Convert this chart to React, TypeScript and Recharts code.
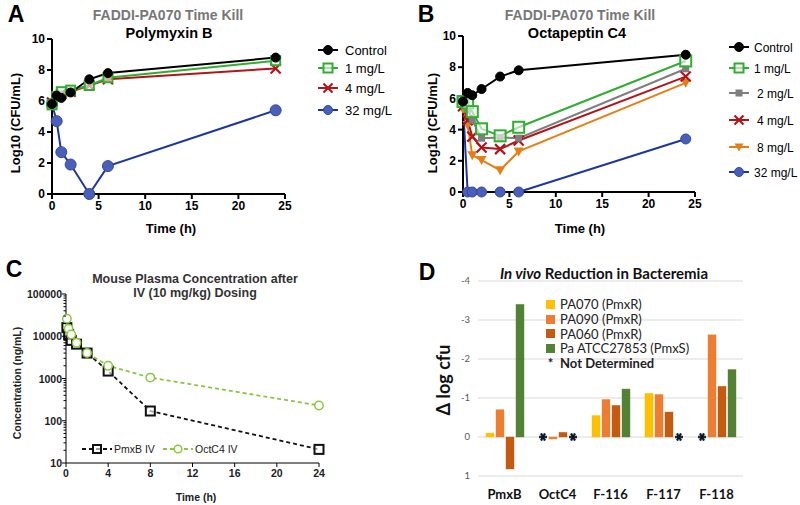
import React from 'react';
import { LineChart, Line, XAxis, YAxis, BarChart, Bar, CartesianGrid } from 'recharts';

// ---- A / B: FADDI-PA070 time kill (log10 CFU/mL) ----
const killTimes = [0, 0.5, 1, 2, 4, 6, 24];

const pmxControl = [5.8, 6.35, 6.2, 6.55, 7.4, 7.8, 8.8];
const pmx1 = [5.75, 6.3, 6.6, 6.7, 7.0, 7.5, 8.6];
const pmx4 = [5.9, 6.3, 6.45, 6.6, 7.0, 7.4, 8.1];
const pmx32 = [5.8, 4.7, 2.7, 1.9, 0, 1.8, 5.4];

const octControl = [5.8, 6.35, 6.2, 6.6, 7.4, 7.8, 8.8];
const oct1 = [5.8, 5.7, 5.15, 4.05, 3.6, 4.15, 8.4];
const oct2 = [5.8, 5.3, 4.6, 3.45, 3.5, 3.45, 7.9];
const oct4 = [5.5, 4.6, 3.55, 2.85, 2.75, 3.3, 7.4];
const oct8 = [5.3, 4.3, 2.35, 2.05, 1.4, 2.6, 7.0];
const oct32 = [5.6, 0, 0, 0, 0, 0, 3.4];

const killTicksX = [0, 5, 10, 15, 20, 25];
const killTicksY = [0, 2, 4, 6, 8, 10];

// ---- C: mouse plasma concentration (ng/mL) ----
const pkTimes = [0.083, 0.25, 0.5, 1, 2, 4, 8, 24];
const pmxbIV = [16000, 11000, 8000, 6500, 4000, 1500, 170, 21];
const octc4IV = [26000, 15000, 11000, 7000, 4000, 2000, 1050, 230];
const pkTicksX = [0, 4, 8, 12, 16, 20, 24];
const pkMajorY = [10, 100, 1000, 10000, 100000];

// ---- D: in vivo reduction (delta log cfu), null = not determined ----
const compounds = ['PmxB', 'OctC4', 'F-116', 'F-117', 'F-118'];
const pa070 = [-0.1, null, -0.55, -1.12, null];
const pa090 = [-0.7, 0.05, -0.96, -1.09, -2.62];
const pa060 = [0.82, -0.12, -0.81, -0.64, -1.3];
const atcc = [-3.4, null, -1.23, null, -1.73];
const deltaTicks = [-4, -3, -2, -1, 0, 1];

const ARIAL = '"Liberation Sans", Arial, sans-serif';
const CALIBRI = 'Lato, "Open Sans", sans-serif';

const pmxData = killTimes.map((t, i) => ({
  t,
  control: pmxControl[i],
  k1: pmx1[i],
  k4: pmx4[i],
  k32: pmx32[i],
}));

const octData = killTimes.map((t, i) => ({
  t,
  control: octControl[i],
  k1: oct1[i],
  k2: oct2[i],
  k4: oct4[i],
  k8: oct8[i],
  k32: oct32[i],
}));

const pkData = pkTimes.map((t, i) => ({ t, pmxb: pmxbIV[i], octc4: octc4IV[i] }));

// major decades plus the 2..9 minor marks for the log axis
const pkTicksY = pkMajorY
  .slice(0, -1)
  .flatMap((d) => [1, 2, 3, 4, 5, 6, 7, 8, 9].map((m) => m * d))
  .concat([100000]);

const bactData = compounds.map((name, i) => ({
  name,
  pa070: pa070[i] ?? 0,
  pa070ND: pa070[i] == null,
  pa090: pa090[i] ?? 0,
  pa090ND: pa090[i] == null,
  pa060: pa060[i] ?? 0,
  pa060ND: pa060[i] == null,
  atcc: atcc[i] ?? 0,
  atccND: atcc[i] == null,
}));

type Shape = 'circle' | 'openSquare' | 'square' | 'cross' | 'triDown' | 'openCircle';

function Marker({ shape, cx, cy, color, size, fill }: any) {
  if (cx == null || cy == null) return null;
  const s = size;
  if (shape === 'circle') return <circle cx={cx} cy={cy} r={s} fill={fill || color} stroke={color} strokeWidth={1} />;
  if (shape === 'openCircle') return <circle cx={cx} cy={cy} r={s} fill="#fff" stroke={color} strokeWidth={1.5} />;
  if (shape === 'openSquare')
    return <rect x={cx - s} y={cy - s} width={s * 2} height={s * 2} fill="#fff" fillOpacity={0.6} stroke={color} strokeWidth={2} />;
  if (shape === 'square') return <rect x={cx - s} y={cy - s} width={s * 2} height={s * 2} fill={color} />;
  if (shape === 'triDown')
    return <path d={`M${cx - s},${cy - s * 0.8} L${cx + s},${cy - s * 0.8} L${cx},${cy + s} Z`} fill={color} />;
  return (
    <g stroke={color} strokeWidth={2.2}>
      <line x1={cx - s} y1={cy - s} x2={cx + s} y2={cy + s} />
      <line x1={cx - s} y1={cy + s} x2={cx + s} y2={cy - s} />
    </g>
  );
}

interface KillSeries {
  key: string;
  name: string;
  line: string;
  color: string;
  fill?: string;
  shape: Shape;
  size: number;
  indent?: number;
}

const blue = { line: '#1d35a3', color: '#2f47a8', fill: '#4a60b8' };

const pmxSeries: KillSeries[] = [
  { key: 'k32', name: '32 mg/L', ...blue, shape: 'circle', size: 5.5 },
  { key: 'k4', name: '4 mg/L', line: '#b3141c', color: '#b3141c', shape: 'cross', size: 5 },
  { key: 'k1', name: '1 mg/L', line: '#2fae2f', color: '#2fae2f', shape: 'openSquare', size: 4.5 },
  { key: 'control', name: 'Control', line: '#000', color: '#000', shape: 'circle', size: 4.5 },
];

const octSeries: KillSeries[] = [
  { key: 'k32', name: '32 mg/L', ...blue, shape: 'circle', size: 5 },
  { key: 'k8', name: '8 mg/L', line: '#e67e16', color: '#e67e16', shape: 'triDown', size: 5, indent: 3 },
  { key: 'k4', name: '4 mg/L', line: '#b3141c', color: '#b3141c', shape: 'cross', size: 5, indent: 3 },
  { key: 'k2', name: '2 mg/L', line: '#7f7f7f', color: '#7f7f7f', shape: 'square', size: 3.5, indent: 3 },
  { key: 'k1', name: '1 mg/L', line: '#2fae2f', color: '#2fae2f', shape: 'openSquare', size: 5.5 },
  { key: 'control', name: 'Control', line: '#000', color: '#000', shape: 'circle', size: 4.5 },
];

function Txt({ x, y, children, style, rotate }: any) {
  return (
    <div
      style={{
        position: 'absolute',
        left: x,
        top: y,
        transform: `translate(-50%, -50%)${rotate ? ' rotate(-90deg)' : ''}`,
        whiteSpace: 'nowrap',
        lineHeight: 1,
        ...style,
      }}
    >
      {children}
    </div>
  );
}

const prismAxis = { stroke: '#000', strokeWidth: 2 };
const prismTick = { fill: '#000', fontSize: 12, fontWeight: 700, fontFamily: ARIAL };

function KillChart({ data, series, margin, legendYs, legendX, textX, legendFont }: any) {
  const order = [...series].reverse();
  return (
    <>
      <LineChart width={400} height={250} data={data} margin={margin} style={{ position: 'absolute', left: 0, top: 0 }}>
        <XAxis
          type="number"
          dataKey="t"
          domain={[0, 25]}
          ticks={killTicksX}
          axisLine={prismAxis}
          tickLine={prismAxis}
          tick={prismTick}
          tickSize={5}
          tickMargin={2}
          height={30}
        />
        <YAxis
          type="number"
          domain={[0, 10]}
          ticks={killTicksY}
          axisLine={prismAxis}
          tickLine={prismAxis}
          tick={prismTick}
          tickSize={5}
          tickMargin={2}
          width={30}
        />
        {series.map((s: KillSeries) => (
          <Line
            key={s.key}
            dataKey={s.key}
            stroke={s.line}
            strokeWidth={2}
            isAnimationActive={false}
            activeDot={false}
            dot={(p: any) => (
              <Marker key={`${s.key}-${p.index}`} shape={s.shape} cx={p.cx} cy={p.cy} color={s.color} fill={s.fill} size={s.size} />
            )}
          />
        ))}
      </LineChart>
      {/* legend */}
      <svg width={400} height={250} style={{ position: 'absolute', left: 0, top: 0, pointerEvents: 'none' }}>
        {order.map((s: KillSeries, i: number) => (
          <g key={s.key}>
            <line x1={legendX} x2={legendX + 20} y1={legendYs[i]} y2={legendYs[i]} stroke={s.line} strokeWidth={2} />
            <Marker shape={s.shape} cx={legendX + 10} cy={legendYs[i]} color={s.color} fill={s.fill} size={Math.min(s.size, 4.5)} />
            <text x={textX + (s.indent || 0)} y={legendYs[i]} dy={4.5} fontSize={legendFont} fontFamily={ARIAL} fill="#000">
              {s.name}
            </text>
          </g>
        ))}
      </svg>
    </>
  );
}

function LogTick({ x, y, payload }: any) {
  const v = payload.value;
  const major = pkMajorY.includes(v);
  return (
    <g>
      <line x1={x - (major ? 4 : 2.5)} x2={x} y1={y} y2={y} stroke="#000" strokeWidth={1} />
      {major && (
        <text x={x - 4} y={y} dy={4} textAnchor="end" fontSize={10.5} fontWeight={700} fontFamily={ARIAL} fill="#222">
          {v}
        </text>
      )}
    </g>
  );
}

function NDStar({ cx, cy }: any) {
  const r = 4;
  const arms = [0, 60, 120].map((a) => {
    const rad = (a * Math.PI) / 180;
    return [Math.cos(rad) * r, Math.sin(rad) * r];
  });
  return (
    <g>
      {arms.map(([dx, dy], i) => (
        <line key={`h${i}`} x1={cx - dx} y1={cy - dy} x2={cx + dx} y2={cy + dy} stroke="#8fb0d8" strokeWidth={3.2} />
      ))}
      {arms.map(([dx, dy], i) => (
        <line key={`c${i}`} x1={cx - dx} y1={cy - dy} x2={cx + dx} y2={cy + dy} stroke="#111" strokeWidth={1.7} />
      ))}
    </g>
  );
}

const barShape = (ndKey: string) => (props: any) => {
  const { x, y, width, height, fill, payload } = props;
  if (payload && payload[ndKey]) return <NDStar cx={x + width / 2} cy={y + (height || 0)} />;
  let top = y;
  let h = height;
  if (h < 0) {
    top = y + h;
    h = -h;
  }
  return <rect x={x} y={top} width={width} height={h} fill={fill} stroke={fill} strokeOpacity={0.5} strokeWidth={0.8} />;
};

const bactSeries = [
  { key: 'pa070', name: 'PA070 (PmxR)', color: '#ffc000' },
  { key: 'pa090', name: 'PA090 (PmxR)', color: '#ed7d31' },
  { key: 'pa060', name: 'PA060 (PmxR)', color: '#c55a11' },
  { key: 'atcc', name: 'Pa ATCC27853 (PmxS)', color: '#548235' },
];

export default function App() {
  return (
    <div style={{ position: 'absolute', left: 0, top: 0, width: 800, height: 505, background: '#fff', overflow: 'hidden', fontFamily: ARIAL }}>
      {/* A */}
      <div style={{ position: 'absolute', left: 0, top: 0, width: 400, height: 250 }}>
        <Txt x={16} y={14} style={{ fontSize: 23, fontWeight: 700 }}>A</Txt>
        <Txt x={168} y={15} style={{ fontSize: 14, fontWeight: 700, color: '#777' }}>FADDI-PA070 Time Kill</Txt>
        <Txt x={169} y={33} style={{ fontSize: 14.5, fontWeight: 700 }}>Polymyxin B</Txt>
        <Txt x={15} y={123} rotate style={{ fontSize: 13, fontWeight: 700 }}>Log10 (CFU/mL)</Txt>
        <Txt x={171} y={228} style={{ fontSize: 13, fontWeight: 700 }}>Time (h)</Txt>
        <KillChart
          data={pmxData}
          series={pmxSeries}
          margin={{ top: 39, right: 115, bottom: 26, left: 22 }}
          legendYs={[50, 68, 88, 110]}
          legendX={318}
          textX={345}
          legendFont={13}
        />
      </div>
      {/* B */}
      <div style={{ position: 'absolute', left: 400, top: 0, width: 400, height: 250 }}>
        <Txt x={26} y={14} style={{ fontSize: 23, fontWeight: 700 }}>B</Txt>
        <Txt x={180} y={15} style={{ fontSize: 14, fontWeight: 700, color: '#777' }}>FADDI-PA070 Time Kill</Txt>
        <Txt x={177} y={33} style={{ fontSize: 14.5, fontWeight: 700 }}>Octapeptin C4</Txt>
        <Txt x={32} y={123} rotate style={{ fontSize: 13, fontWeight: 700 }}>Log10 (CFU/mL)</Txt>
        <Txt x={180} y={228} style={{ fontSize: 13, fontWeight: 700 }}>Time (h)</Txt>
        <KillChart
          data={octData}
          series={octSeries}
          margin={{ top: 36, right: 105, bottom: 28, left: 33 }}
          legendYs={[47, 68, 93, 120, 147, 172]}
          legendX={329}
          textX={354}
          legendFont={12}
        />
      </div>
      {/* C */}
      <div style={{ position: 'absolute', left: 0, top: 250, width: 400, height: 255 }}>
        <Txt x={14} y={19} style={{ fontSize: 23, fontWeight: 700 }}>C</Txt>
        <Txt x={195} y={29} style={{ fontSize: 12.5, fontWeight: 700, color: '#333' }}>Mouse Plasma Concentration after</Txt>
        <Txt x={195} y={43} style={{ fontSize: 12.5, fontWeight: 700, color: '#333' }}>IV (10 mg/kg) Dosing</Txt>
        <Txt x={17} y={133} rotate style={{ fontSize: 10.5, fontWeight: 700, color: '#222' }}>Concentration (ng/mL)</Txt>
        <Txt x={196} y={247} style={{ fontSize: 10.5, fontWeight: 700, color: '#222' }}>Time (h)</Txt>
        <LineChart width={400} height={255} data={pkData} margin={{ top: 44, right: 81, bottom: 20, left: 26 }} style={{ position: 'absolute', left: 0, top: 0 }}>
          <XAxis
            type="number"
            dataKey="t"
            domain={[0, 24]}
            ticks={pkTicksX}
            axisLine={{ stroke: '#000' }}
            tickLine={{ stroke: '#000' }}
            tickSize={4}
            tickMargin={3}
            tick={{ fill: '#222', fontSize: 10.5, fontWeight: 700, fontFamily: ARIAL }}
            height={22}
          />
          <YAxis
            type="number"
            scale="log"
            domain={[10, 100000]}
            ticks={pkTicksY}
            interval={0}
            allowDataOverflow
            axisLine={{ stroke: '#000' }}
            tickLine={false}
            tickSize={0}
            tickMargin={0}
            tick={<LogTick />}
            width={40}
          />
          <Line
            dataKey="pmxb"
            stroke="#111"
            strokeWidth={1.8}
            strokeDasharray="4 3"
            isAnimationActive={false}
            activeDot={false}
            dot={(p: any) => <Marker key={`p-${p.index}`} shape="openSquare" cx={p.cx} cy={p.cy} color="#111" size={4.5} />}
          />
          <Line
            dataKey="octc4"
            stroke="#8cc63f"
            strokeWidth={1.8}
            strokeDasharray="4 3"
            isAnimationActive={false}
            activeDot={false}
            dot={(p: any) => <Marker key={`o-${p.index}`} shape="openCircle" cx={p.cx} cy={p.cy} color="#8cc63f" size={4.2} />}
          />
        </LineChart>
        <svg width={400} height={255} style={{ position: 'absolute', left: 0, top: 0, pointerEvents: 'none' }}>
          <line x1={82} x2={112} y1={199} y2={199} stroke="#111" strokeWidth={1.8} strokeDasharray="4 3" />
          <Marker shape="openSquare" cx={97} cy={199} color="#111" size={4} />
          <text x={114} y={199} dy={3.8} fontSize={10.5} fontFamily={ARIAL} fill="#222">PmxB IV</text>
          <line x1={163} x2={193} y1={199} y2={199} stroke="#8cc63f" strokeWidth={1.8} strokeDasharray="4 3" />
          <Marker shape="openCircle" cx={178} cy={199} color="#8cc63f" size={3.8} />
          <text x={195} y={199} dy={3.8} fontSize={10.5} fontFamily={ARIAL} fill="#222">OctC4 IV</text>
        </svg>
      </div>
      {/* D */}
      <div style={{ position: 'absolute', left: 400, top: 250, width: 400, height: 255, fontFamily: CALIBRI }}>
        <Txt x={27} y={22} style={{ fontSize: 23, fontWeight: 700, fontFamily: ARIAL }}>D</Txt>
        <Txt x={204} y={23} style={{ fontSize: 15, fontWeight: 700, color: '#111' }}>
          <i>In vivo</i> Reduction in Bacteremia
        </Txt>
        <Txt x={43} y={130} rotate style={{ fontSize: 18, fontWeight: 700, color: '#111' }}>Δ log cfu</Txt>
        <BarChart width={400} height={255} data={bactData} barSize={8} barGap={2} margin={{ top: 31, right: 57, bottom: 4, left: 48 }} style={{ position: 'absolute', left: 0, top: 0 }}>
          <CartesianGrid vertical={false} stroke="#d9d9d9" />
          <XAxis dataKey="name" axisLine={false} tickLine={false} tickSize={0} tickMargin={14} height={25} tick={{ fill: '#111', fontSize: 13, fontWeight: 700, fontFamily: CALIBRI }} />
          <YAxis
            type="number"
            domain={[-4, 1]}
            ticks={deltaTicks}
            reversed
            axisLine={false}
            tickLine={false}
            tickSize={0}
            tickMargin={8}
            width={30}
            tick={{ fill: '#595959', fontSize: 9.5, fontFamily: CALIBRI }}
          />
          {bactSeries.map((s) => (
            <Bar key={s.key} dataKey={s.key} fill={s.color} isAnimationActive={false} shape={barShape(`${s.key}ND`)} />
          ))}
        </BarChart>
        <div style={{ position: 'absolute', left: 146, top: 47, fontSize: 13, color: '#222', lineHeight: '14.8px' }}>
          {bactSeries.map((s) => (
            <div key={s.key} style={{ display: 'flex', alignItems: 'center' }}>
              <span style={{ display: 'inline-block', width: 9, height: 9, background: s.color, marginRight: 5 }} />
              {s.name}
            </div>
          ))}
          <div style={{ display: 'flex', alignItems: 'center', fontWeight: 700 }}>
            <span style={{ display: 'inline-block', width: 9, marginRight: 5, textAlign: 'center' }}>*</span>
            Not Determined
          </div>
        </div>
      </div>
    </div>
  );
}
